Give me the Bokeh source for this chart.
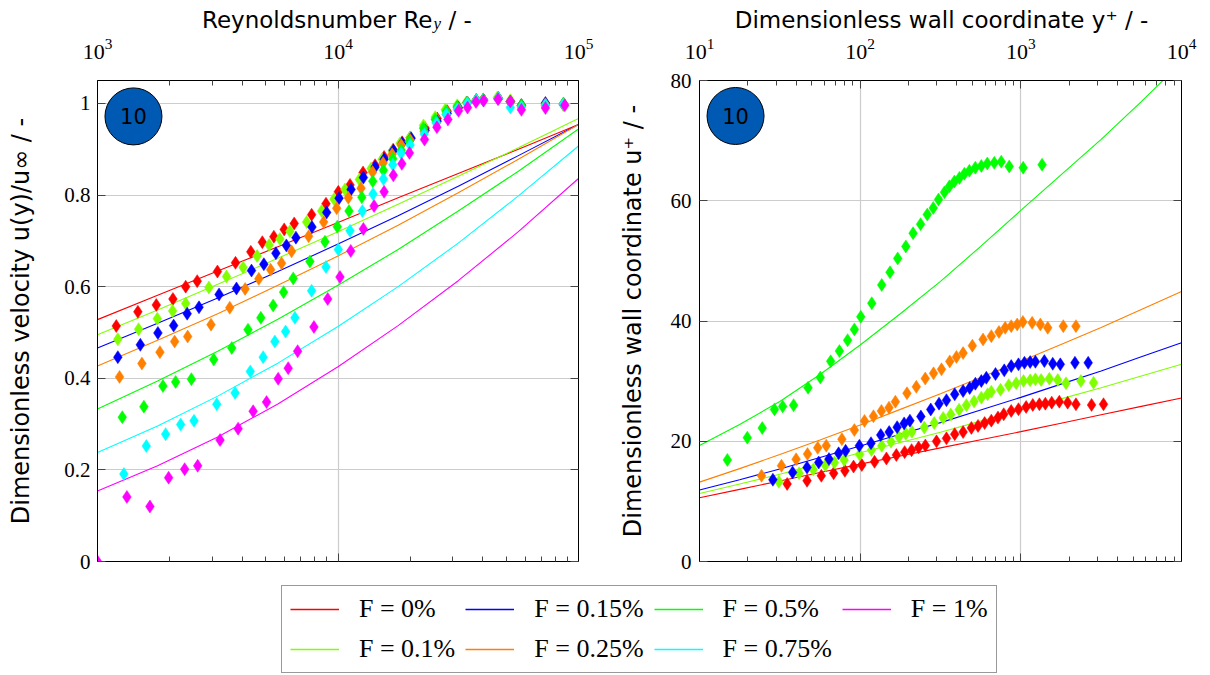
from bokeh.plotting import figure
from bokeh.models import (LogAxis, LinearAxis, FixedTicker, Range1d, Label, Legend,
                          LegendItem, CustomJSTickFormatter)
from bokeh.layouts import column, row
from bokeh.embed import file_html
from bokeh.resources import INLINE

# ---------------- data: left panel (u/u_inf over Re_y) ----------------
re_0 = [1197, 1472, 1756, 2059, 2327, 2598, 3153, 3748, 4340, 4846, 5411, 5974, 6575, 7769, 8913,
        10030, 11220, 12710, 14260, 15550, 16950, 18480, 19950, 23040, 25850, 28460, 31620, 34470,
        37580, 40200, 46420, 52090, 57880, 72860, 86600]
u_0 = [0.514, 0.545, 0.560, 0.573, 0.600, 0.612, 0.633, 0.652, 0.676, 0.697, 0.709, 0.725, 0.738,
       0.757, 0.781, 0.807, 0.822, 0.849, 0.865, 0.883, 0.899, 0.915, 0.925, 0.946, 0.967, 0.983,
       0.990, 1.002, 1.007, 1.008, 1.012, 1.004, 0.996, 0.999, 0.999]

re_01 = [1215, 1482, 1773, 2053, 2327, 2905, 3438, 4031, 4611, 5174, 5732, 6310, 7406, 8553, 9623,
         10690, 12270, 13730, 15260, 16790, 18130, 19950, 22670, 25360, 27920, 31320, 34150, 37580,
         40200, 45980, 52090, 57880, 72860, 86600]
u_01 = [0.485, 0.507, 0.530, 0.547, 0.563, 0.598, 0.622, 0.642, 0.667, 0.691, 0.704, 0.721, 0.741,
        0.765, 0.791, 0.812, 0.834, 0.858, 0.878, 0.896, 0.913, 0.926, 0.952, 0.970, 0.986, 0.996,
        1.002, 1.007, 1.009, 1.013, 1.007, 0.996, 0.996, 0.996]

re_015 = [1215, 1507, 1783, 2073, 2360, 2643, 3202, 3783, 4369, 4917, 5517, 6101, 6684, 7793, 8973,
          10100, 11330, 12750, 14260, 15550, 16990, 18480, 20140, 23040, 25850, 28460, 31620, 34470,
          37580, 40200, 46420, 52090, 57880, 72860, 86600]
u_015 = [0.446, 0.473, 0.499, 0.515, 0.541, 0.555, 0.583, 0.596, 0.635, 0.649, 0.673, 0.690, 0.707,
         0.730, 0.762, 0.793, 0.812, 0.838, 0.861, 0.878, 0.897, 0.913, 0.924, 0.941, 0.961, 0.978,
         0.991, 1.002, 1.007, 1.008, 1.011, 1.004, 0.996, 1.001, 0.998]

re_025 = [1235, 1530, 1818, 2093, 2371, 2965, 3548, 4110, 4686, 5248, 5826, 6414, 7548, 8718, 9876,
          11040, 12470, 13920, 15400, 16790, 18310, 19950, 22820, 25610, 28180, 31320, 34470, 37580,
          40200, 46420, 52090, 57880, 72860, 86600]
u_025 = [0.403, 0.432, 0.457, 0.480, 0.491, 0.517, 0.554, 0.595, 0.617, 0.637, 0.651, 0.677, 0.710,
         0.741, 0.771, 0.794, 0.815, 0.850, 0.870, 0.889, 0.909, 0.920, 0.939, 0.959, 0.976, 0.991,
         1.002, 1.007, 1.008, 1.011, 1.004, 0.993, 0.998, 0.998]

re_05 = [1268, 1559, 1871, 2113, 2457, 3043, 3617, 4225, 4777, 5375, 5940, 6514, 7643, 8827, 9930,
         11110, 12560, 13950, 15450, 16900, 18310, 19760, 22670, 25360, 28180, 31320, 34470, 37580,
         40200, 46420, 52090, 57880, 72860, 86600]
u_05 = [0.315, 0.338, 0.383, 0.392, 0.398, 0.441, 0.466, 0.506, 0.532, 0.559, 0.588, 0.618, 0.655,
        0.698, 0.731, 0.765, 0.795, 0.830, 0.854, 0.879, 0.898, 0.917, 0.946, 0.965, 0.983, 0.993,
        1.002, 1.007, 1.008, 1.011, 1.002, 0.996, 0.996, 1.000]

re_075 = [1287, 1596, 1920, 2217, 2519, 3132, 3733, 4319, 4884, 5463, 6056, 6620, 7769, 8913, 10030,
          11220, 12630, 13990, 15450, 16900, 18310, 19950, 22820, 25610, 28180, 31320, 34470, 37580,
          40200, 46420, 52090, 57880, 72860, 86600]
u_075 = [0.191, 0.252, 0.278, 0.299, 0.307, 0.343, 0.368, 0.415, 0.446, 0.480, 0.502, 0.532, 0.591,
         0.643, 0.681, 0.722, 0.765, 0.802, 0.835, 0.866, 0.891, 0.909, 0.933, 0.957, 0.976, 0.987,
         1.000, 1.007, 1.007, 1.011, 0.991, 0.991, 0.996, 0.998]

re_1 = [1000, 1325, 1652, 1976, 2304, 2610, 3233, 3843, 4437, 5046, 5640, 6208, 6794, 7943, 9060,
        10190, 11300, 12750, 14130, 15550, 16990, 18430, 19820, 22890, 25780, 28650, 31720, 34570,
        37480, 40320, 46290, 52090, 57880, 72860, 87700]
u_1 = [0.0, 0.141, 0.120, 0.183, 0.2015, 0.209, 0.265, 0.290, 0.328, 0.348, 0.399, 0.422, 0.459,
       0.512, 0.573, 0.621, 0.678, 0.726, 0.776, 0.807, 0.843, 0.868, 0.892, 0.921, 0.948, 0.965,
       0.984, 0.991, 1.003, 1.006, 1.009, 1.004, 0.986, 0.990, 0.996]

# fitted curves (left)
re_fit = [1000, 1778, 3162, 5623, 10000, 17783, 31623, 56234, 100000]
fit_0 = [0.528, 0.581, 0.634, 0.687, 0.740, 0.794, 0.847, 0.900, 0.954]
fit_01 = [0.495, 0.549, 0.605, 0.662, 0.720, 0.780, 0.841, 0.903, 0.967]
fit_015 = [0.466, 0.520, 0.575, 0.633, 0.693, 0.755, 0.819, 0.886, 0.954]
fit_025 = [0.427, 0.483, 0.541, 0.603, 0.667, 0.734, 0.805, 0.878, 0.954]
fit_05 = [0.333, 0.394, 0.459, 0.529, 0.603, 0.681, 0.765, 0.852, 0.944]
fit_075 = [0.238, 0.296, 0.361, 0.433, 0.513, 0.600, 0.695, 0.798, 0.907]
fit_1 = [0.154, 0.209, 0.272, 0.344, 0.425, 0.515, 0.613, 0.720, 0.836]

# ---------------- data: right panel (u+ over y+) ----------------
yp_0 = [35.12, 46.71, 57.30, 68.38, 80.35, 90.98, 102.4, 122.9, 145.7, 168.0, 189.2, 209.0, 231.1,
        254.6, 298.7, 344.5, 387.8, 437.3, 492.2, 541.6, 595.2, 655.1, 720.6, 782.8, 871.3, 967.0,
        1079, 1187, 1305, 1421, 1557, 1736, 1957, 2203, 2756, 3270]
up_0 = [12.89, 13.43, 14.26, 14.68, 15.09, 15.79, 16.05, 16.58, 17.13, 17.71, 18.19, 18.52, 18.96,
        19.29, 19.98, 20.48, 21.18, 21.53, 22.22, 22.55, 23.02, 23.43, 23.93, 24.49, 25.04, 25.32,
        25.70, 26.04, 26.15, 26.25, 26.42, 26.58, 26.42, 26.15, 26.04, 26.15]

yp_01 = [31.19, 41.69, 51.05, 60.66, 69.17, 79.55, 99.25, 117.6, 136.2, 155.6, 174.4, 192.4, 209.9,
         250.6, 289.1, 328.7, 366.4, 412.9, 458.4, 511.7, 567.8, 621.2, 655.1, 747.8, 840.9, 935.6,
         1039, 1143, 1232, 1337, 1505, 1697, 1910, 2366, 2836]
up_01 = [13.27, 14.68, 15.29, 16.00, 16.45, 16.87, 17.79, 18.54, 19.24, 19.93, 20.73, 21.23, 21.59,
         22.27, 23.02, 23.88, 24.43, 25.24, 26.00, 26.62, 27.25, 27.81, 28.24, 28.57, 29.32, 29.64,
         30.02, 30.13, 30.30, 30.18, 30.40, 30.18, 29.64, 30.02, 29.73]

yp_015 = [28.63, 37.98, 46.71, 55.21, 63.95, 73.42, 81.17, 98.83, 116.8, 134.3, 151.6, 169.9, 187.8,
          204.0, 238.7, 275.0, 309.6, 344.5, 387.8, 437.3, 480.5, 521.2, 567.8, 609.9, 695.6, 788.4,
          871.3, 967.0, 1053, 1143, 1232, 1401, 1580, 1761, 2172, 2626]
up_015 = [13.60, 14.81, 15.64, 16.47, 17.03, 17.99, 18.41, 19.24, 19.68, 21.03, 21.53, 22.34, 22.97,
          23.43, 24.10, 25.29, 26.25, 26.82, 27.81, 28.36, 28.86, 29.57, 30.02, 30.56, 31.18, 31.79,
          32.50, 32.79, 33.05, 33.17, 33.22, 33.33, 32.89, 32.79, 33.05, 33.05]

yp_025 = [24.33, 32.37, 39.93, 47.03, 54.43, 61.53, 76.98, 92.03, 106.4, 121.0, 135.6, 151.2, 165.7,
          195.6, 223.6, 254.2, 286.2, 320.8, 361.1, 397.4, 437.3, 499.3, 581.9, 655.1, 731.0, 799.7,
          871.3, 949.1, 1030, 1176, 1323, 1471, 1838, 2203]
up_025 = [14.26, 15.92, 17.00, 17.86, 18.90, 19.27, 20.35, 21.86, 23.38, 24.16, 25.04, 25.59, 26.58,
          27.98, 29.05, 30.43, 31.29, 31.96, 33.28, 34.03, 34.66, 35.90, 36.93, 37.48, 38.17, 38.86,
          39.14, 39.42, 39.85, 39.69, 39.42, 38.86, 39.14, 39.14]

yp_05 = [14.91, 19.84, 24.58, 29.29, 32.94, 38.52, 47.39, 56.48, 65.52, 74.28, 83.52, 92.03, 100.9,
         118.1, 136.2, 153.4, 171.2, 192.4, 213.5, 237.7, 261.6, 285.0, 307.4, 334.8, 359.5, 386.2,
         414.8, 445.6, 478.5, 521.2, 567.8, 618.6, 683.8, 755.3, 846.9, 1034, 1356]
up_05 = [16.9, 20.6, 22.2, 25.3, 25.8, 26.0, 28.9, 30.6, 33.3, 35.0, 36.8, 38.6, 40.7, 42.95, 46.0,
         48.1, 50.4, 52.4, 54.6, 56.1, 57.7, 58.8, 60.2, 61.4, 62.4, 63.2, 63.8, 64.5, 65.0, 65.5,
         65.8, 66.2, 66.3, 66.5, 65.7, 65.5, 66.0]

# fitted curves (right)
yp_fit = [10, 17.78, 31.62, 56.23, 100, 177.8, 316.2, 562.3, 1000, 1778, 3162, 5623, 10000]
rfit_0 = [10.6, 12.0, 13.4, 14.8, 16.2, 17.55, 18.9, 20.25, 21.6, 23.0, 24.4, 25.8, 27.2]
rfit_01 = [11.3, 12.9, 14.5, 16.3, 18.1, 19.8, 21.5, 23.35, 25.2, 27.05, 28.9, 30.85, 32.8]
rfit_015 = [11.9, 13.6, 15.4, 17.3, 19.2, 21.15, 23.1, 25.2, 27.3, 29.5, 31.7, 34.05, 36.4]
rfit_025 = [13.2, 15.45, 17.8, 20.2, 22.7, 25.3, 27.9, 30.6, 33.3, 36.1, 38.9, 41.9, 44.9]
rfit_05 = [19.3, 22.8, 26.6, 31.1, 36.0, 41.2, 46.6, 52.4, 58.4, 64.3, 70.2, 76.5, 83.0]

# legend / series labels
labels = ["F = 0%", "F = 0.1%", "F = 0.15%", "F = 0.25%", "F = 0.5%", "F = 0.75%", "F = 1%"]
colors = ["#ff0000", "#80ff00", "#0000ff", "#ff8000", "#00ff00", "#00ffff", "#ff00ff"]
badge_text = "10"
title_left = ("Reynoldsnumber Re", "y", "/ -")
title_right = "Dimensionless wall coordinate y\u207a / -"
ylabel_left = "Dimensionless velocity u(y)/u\u221e / -"
ylabel_right = "Dimensionless wall coordinate u\u207a / -"

left_series = [(re_0, u_0, fit_0), (re_01, u_01, fit_01), (re_015, u_015, fit_015),
               (re_025, u_025, fit_025), (re_05, u_05, fit_05), (re_075, u_075, fit_075),
               (re_1, u_1, fit_1)]
right_series = [(yp_0, up_0, rfit_0, 0), (yp_01, up_01, rfit_01, 1), (yp_015, up_015, rfit_015, 2),
                (yp_025, up_025, rfit_025, 3), (yp_05, up_05, rfit_05, 4)]

SERIF = "Liberation Serif"
SANS = "DejaVu Sans"
GRID = "#cccccc"
STRIP_H = 34


def style_axis(ax, show_labels=True, size="21px", standoff=8):
    ax.major_tick_in = 8
    ax.major_tick_out = 0
    ax.minor_tick_in = 5
    ax.minor_tick_out = 0
    ax.major_tick_line_color = "#444444"
    ax.minor_tick_line_color = "#444444"
    ax.axis_line_color = "black"
    ax.axis_line_width = 1
    ax.major_label_text_font = SERIF
    ax.major_label_text_font_size = size
    ax.major_label_text_color = "black"
    ax.major_label_standoff = standoff
    if not show_labels:
        ax.formatter = CustomJSTickFormatter(code="return '';")
        ax.major_label_text_font_size = "0px"


def make_panel(x_range, y_range, min_left, min_right, fw):
    p = figure(x_axis_type="log", x_axis_location="above", x_range=x_range, y_range=y_range,
               frame_width=fw, frame_height=481, min_border_left=min_left,
               min_border_right=min_right, min_border_top=80 - STRIP_H, min_border_bottom=19,
               toolbar_location=None, output_backend="svg")
    p.outline_line_color = "black"
    p.outline_line_width = 1
    p.background_fill_color = "white"
    p.border_fill_color = "white"
    return p


def set_ylabel(ax, text, standoff):
    ax.axis_label = text
    ax.axis_label_text_font = SANS
    ax.axis_label_text_font_size = "24px"
    ax.axis_label_text_font_style = "normal"
    ax.axis_label_text_color = "black"
    ax.axis_label_standoff = standoff


# ---------------- title strip ----------------
pt = figure(width=1210, height=STRIP_H, x_range=Range1d(0, 1210), y_range=Range1d(0, STRIP_H),
            toolbar_location=None, output_backend="svg", min_border=0,
            x_axis_location=None, y_axis_location=None)
pt.outline_line_color = None
pt.grid.visible = False
TY = STRIP_H - 19
pt.add_layout(Label(x=432, y=TY, text=title_left[0], text_align="right", text_baseline="middle",
                    text_font=SANS, text_font_size="23px", text_color="black"))
pt.add_layout(Label(x=432, y=TY, text=title_left[1], text_align="left", text_baseline="middle",
                    x_offset=1, y_offset=-4, text_font=SERIF, text_font_style="italic",
                    text_font_size="17px", text_color="black"))
pt.add_layout(Label(x=432, y=TY, text=title_left[2], text_align="left", text_baseline="middle",
                    x_offset=16, text_font=SANS, text_font_size="23px", text_color="black"))
pt.add_layout(Label(x=941, y=TY, text=title_right, text_align="center", text_baseline="middle",
                    text_font=SANS, text_font_size="23px", text_color="black"))

# ---------------- left panel ----------------
p1 = make_panel(Range1d(1e3, 1e5), Range1d(0, 1.05), 97, 32, 481)
x1_major = [1e3, 1e4, 1e5]
x1_minor = [k * 10 ** e for e in (3, 4) for k in range(2, 10)]
y1_major = [0, 0.2, 0.4, 0.6, 0.8, 1.0]
p1.add_layout(LogAxis(), "below")
p1.add_layout(LinearAxis(), "right")
for ax in p1.xaxis:
    ax.ticker = FixedTicker(ticks=x1_major, minor_ticks=x1_minor)
for ax in p1.yaxis:
    ax.ticker = FixedTicker(ticks=y1_major)
style_axis(p1.above[0], True, "22px", 22)
style_axis(p1.below[0], False)
style_axis(p1.left[0], True, "21px", 7)
style_axis(p1.right[0], False)
p1.left[0].formatter = CustomJSTickFormatter(code="return String(Math.round(tick * 10) / 10);")
p1.left[0].minor_tick_line_color = None
p1.right[0].minor_tick_line_color = None
set_ylabel(p1.left[0], ylabel_left, 26)
p1.xgrid.ticker = FixedTicker(ticks=x1_major)
p1.ygrid.ticker = FixedTicker(ticks=y1_major)
p1.grid.grid_line_color = GRID
p1.grid.grid_line_width = 1.2

for (xs, ys, fit), c in zip(left_series, colors):
    p1.line(re_fit, fit, line_color=c, line_width=1.1)
for (xs, ys, fit), c in zip(left_series, colors):
    p1.scatter(xs, ys, marker="diamond", size=13, fill_color=c, line_color=c, line_width=0.5)

p1.scatter([1411], [0.9716], marker="circle", size=57, fill_color="#0059b3", line_color="black",
           line_width=1)
p1.add_layout(Label(x=1411, y=0.9716, text=badge_text, text_align="center", text_baseline="middle",
                    text_font=SANS, text_font_size="21px", text_color="black"))

# ---------------- right panel ----------------
p2 = make_panel(Range1d(10, 1e4), Range1d(0, 80), 89, 29, 482)
x2_major = [10, 100, 1000, 10000]
x2_minor = [k * 10 ** e for e in (1, 2, 3) for k in range(2, 10)]
y2_major = [0, 20, 40, 60, 80]
p2.add_layout(LogAxis(), "below")
p2.add_layout(LinearAxis(), "right")
for ax in p2.xaxis:
    ax.ticker = FixedTicker(ticks=x2_major, minor_ticks=x2_minor)
for ax in p2.yaxis:
    ax.ticker = FixedTicker(ticks=y2_major)
style_axis(p2.above[0], True, "22px", 22)
style_axis(p2.below[0], False)
style_axis(p2.left[0], True, "21px", 8)
style_axis(p2.right[0], False)
p2.left[0].minor_tick_line_color = None
p2.right[0].minor_tick_line_color = None
set_ylabel(p2.left[0], ylabel_right, 21)
p2.xgrid.ticker = FixedTicker(ticks=x2_major)
p2.ygrid.ticker = FixedTicker(ticks=y2_major)
p2.grid.grid_line_color = GRID
p2.grid.grid_line_width = 1.2

for xs, ys, fit, i in right_series:
    p2.line(yp_fit, fit, line_color=colors[i], line_width=1.1)
for xs, ys, fit, i in right_series:
    p2.scatter(xs, ys, marker="diamond", size=13, fill_color=colors[i], line_color=colors[i],
               line_width=0.5)

p2.scatter([16.76], [74.1], marker="circle", size=57, fill_color="#0059b3", line_color="black",
           line_width=1)
p2.add_layout(Label(x=16.76, y=74.1, text=badge_text, text_align="center", text_baseline="middle",
                    text_font=SANS, text_font_size="21px", text_color="black"))

# ---------------- legend panel ----------------
p3 = figure(width=1210, height=95, x_range=Range1d(0, 1), y_range=Range1d(0, 1),
            toolbar_location=None, output_backend="svg", min_border=0,
            x_axis_location=None, y_axis_location=None)
p3.outline_line_color = None
p3.grid.visible = False
legend_order = [0, 2, 4, 6, 1, 3, 5]
renderers = {}
for i in range(len(labels)):
    # placeholder renderers lying outside the (invisible) range: only their legend glyph shows
    renderers[i] = p3.line([-3, -2], [-3, -2], line_color=colors[i], line_width=1.5)
items = [LegendItem(label=labels[i], renderers=[renderers[i]]) for i in legend_order]
legend = Legend(items=items, orientation="horizontal", ncols=4, location=(281, 2),
                label_text_font=SERIF, label_text_font_size="26px", label_text_color="black",
                glyph_width=49, glyph_height=26, label_standoff=20, spacing=10, padding=8,
                margin=0, border_line_color="#333333", border_line_width=1,
                background_fill_color="white", label_height=26)
p3.add_layout(legend)

layout = column(pt, row(p1, p2), p3)
open("out.html", "w").write(file_html(layout, INLINE))
